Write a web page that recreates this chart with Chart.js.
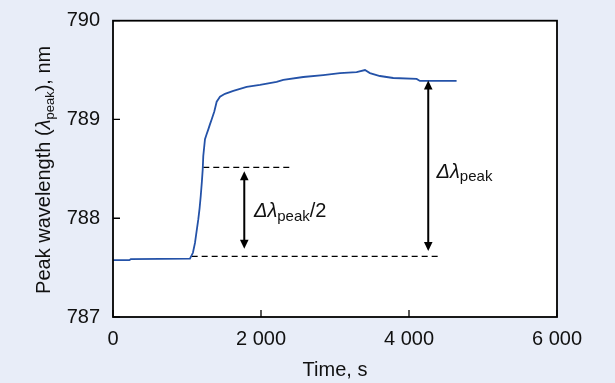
<!DOCTYPE html>
<html>
<head>
<meta charset="utf-8">
<script src="https://cdn.jsdelivr.net/npm/chart.js@4/dist/chart.umd.min.js"></script>
<style>
  html, body { margin: 0; padding: 0; background: #e8edf8; }
  #wrap { width: 615px; height: 383px; }
  canvas { display: block; }
</style>
</head>
<body>
<div id="wrap"><canvas id="c" width="615" height="383"></canvas></div>
<script>
// ---- data ----
const times = [0, 220, 240, 1040, 1080, 1108, 1130, 1153, 1170, 1185, 1200, 1212, 1220, 1243, 1265, 1288, 1310, 1333, 1369, 1401, 1446, 1513, 1626, 1806, 1986, 2211, 2301, 2571, 2841, 3067, 3292, 3405, 3472, 3607, 3787, 4103, 4148, 4643];
const wavelengths = [787.575, 787.575, 787.585, 787.59, 787.65, 787.75, 787.87, 787.99, 788.10, 788.22, 788.36, 788.49, 788.63, 788.80, 788.85, 788.90, 788.95, 789.00, 789.08, 789.18, 789.23, 789.26, 789.29, 789.33, 789.35, 789.38, 789.40, 789.43, 789.45, 789.47, 789.48, 789.50, 789.47, 789.44, 789.42, 789.41, 789.39, 789.39];

const xTicks = [0, 2000, 4000, 6000];
const yTicks = [787, 788, 789, 790];

// dashed reference lines: [tStart, tEnd, level]
const halfLine = [1220, 2436, 788.515];
const baseLine = [1063, 4440, 787.613];

// double arrows: [t, yTop, yBottom]
const halfArrow = [1774, 788.475, 787.691];
const fullArrow = [4260, 789.394, 787.667];

// labels: [t, y]
const halfLabelPos = [1905, 788.01];
const fullLabelPos = [4373, 788.41];

const xTitle = 'Time, s';
const FONT = '"Liberation Sans", Arial, Helvetica, sans-serif';

function fmtThousands(v) {
  return String(v).replace(/\B(?=(\d{3})+(?!\d))/g, ' ');
}

const pts = times.map((t, i) => ({x: t, y: wavelengths[i]}));

function drawRich(ctx, x, y, parts) {
  let cx = x;
  for (const [txt, font, dy] of parts) {
    ctx.font = font;
    ctx.fillText(txt, cx, y + dy);
    cx += ctx.measureText(txt).width;
  }
}
function richWidth(ctx, parts) {
  let w = 0;
  for (const [txt, font] of parts) { ctx.font = font; w += ctx.measureText(txt).width; }
  return w;
}
function arrowHead(ctx, x, y, dir) {
  const L = 9, W = 4.3;
  ctx.beginPath();
  ctx.moveTo(x, y);
  ctx.lineTo(x - W, y - dir * L);
  ctx.lineTo(x + W, y - dir * L);
  ctx.closePath();
  ctx.fill();
}

const decor = {
  id: 'decor',
  beforeDraw(chart) {
    const {ctx, chartArea: a} = chart;
    ctx.save();
    ctx.fillStyle = '#ffffff';
    ctx.fillRect(a.left, a.top, a.right - a.left, a.bottom - a.top);
    ctx.restore();
  },
  afterDatasetsDraw(chart) {
    const {ctx, chartArea: a, scales: {x, y}} = chart;
    ctx.save();
    ctx.strokeStyle = '#000';
    ctx.fillStyle = '#000';
    ctx.lineWidth = 2;
    for (const [t, yt, yb] of [halfArrow, fullArrow]) {
      const px = x.getPixelForValue(t);
      const p1 = y.getPixelForValue(yt), p2 = y.getPixelForValue(yb);
      ctx.beginPath();
      ctx.moveTo(px, p1 + 6);
      ctx.lineTo(px, p2 - 6);
      ctx.stroke();
      arrowHead(ctx, px, p1, -1);
      arrowHead(ctx, px, p2, 1);
    }
    ctx.textBaseline = 'alphabetic';
    ctx.textAlign = 'left';
    ctx.fillStyle = '#111';
    const it = 'italic 20px ' + FONT, sub = '15px ' + FONT, nrm = '20px ' + FONT;
    drawRich(ctx, x.getPixelForValue(halfLabelPos[0]), y.getPixelForValue(halfLabelPos[1]),
      [['Δλ', it, 0], ['peak', sub, 3.5], ['/2', nrm, 0]]);
    drawRich(ctx, x.getPixelForValue(fullLabelPos[0]), y.getPixelForValue(fullLabelPos[1]),
      [['Δλ', it, 0], ['peak', sub, 3.5]]);

    ctx.strokeStyle = '#000';
    ctx.lineWidth = 1.8;
    ctx.strokeRect(a.left, a.top, a.right - a.left, a.bottom - a.top);
    ctx.lineWidth = 1.3;
    ctx.beginPath();
    for (const v of xTicks) {
      const px = x.getPixelForValue(v);
      ctx.moveTo(px, a.bottom); ctx.lineTo(px, a.bottom - 7);
    }
    for (const v of yTicks) {
      const py = y.getPixelForValue(v);
      ctx.moveTo(a.left, py); ctx.lineTo(a.left + 7, py);
    }
    ctx.stroke();

    ctx.fillStyle = '#111';
    ctx.textAlign = 'left';
    ctx.font = '20px ' + FONT;
    const xw = ctx.measureText(xTitle).width;
    ctx.fillText(xTitle, (a.left + a.right) / 2 - xw / 2, 376);

    const yParts = [['Peak wavelength (', '20px ' + FONT, 0], ['λ', 'italic 20px ' + FONT, 0],
                    ['peak', '13px ' + FONT, 4], ['), nm', '20px ' + FONT, 0]];
    const yw = richWidth(ctx, yParts);
    ctx.translate(50, (a.top + a.bottom) / 2 + 1);
    ctx.rotate(-Math.PI / 2);
    drawRich(ctx, -yw / 2, 0, yParts);
    ctx.restore();
  }
};

new Chart(document.getElementById('c'), {
  type: 'scatter',
  data: {
    datasets: [
      {
        data: pts, showLine: true, borderColor: '#2452a8', borderWidth: 1.8,
        pointRadius: 0, tension: 0, order: 1
      },
      {
        data: [{x: halfLine[0], y: halfLine[2]}, {x: halfLine[1], y: halfLine[2]}],
        showLine: true, borderColor: '#000', borderWidth: 1.3, borderDash: [6, 4],
        pointRadius: 0, order: 2
      },
      {
        data: [{x: baseLine[0], y: baseLine[2]}, {x: baseLine[1], y: baseLine[2]}],
        showLine: true, borderColor: '#000', borderWidth: 1.3, borderDash: [6, 4],
        pointRadius: 0, order: 2
      }
    ]
  },
  options: {
    responsive: false,
    animation: false,
    devicePixelRatio: 1,
    layout: { padding: { top: 20.7, right: 58, left: 0, bottom: 0 } },
    plugins: { legend: { display: false }, tooltip: { enabled: false } },
    scales: {
      x: {
        type: 'linear', min: 0, max: 6000,
        afterBuildTicks(s) { s.ticks = xTicks.map(v => ({value: v})); },
        afterFit(s) { s.height = 66; s.paddingLeft = 0; s.paddingRight = 0; },
        grid: { display: false, drawTicks: false },
        border: { display: false },
        ticks: {
          color: '#111', padding: 10,
          font: { family: FONT, size: 20 },
          maxRotation: 0, autoSkip: false,
          callback: v => fmtThousands(v)
        }
      },
      y: {
        type: 'linear', min: 787, max: 790,
        afterBuildTicks(s) { s.ticks = yTicks.map(v => ({value: v})); },
        afterFit(s) { s.width = 113; s.paddingTop = 0; s.paddingBottom = 0; },
        grid: { display: false, drawTicks: false },
        border: { display: false },
        ticks: {
          color: '#111', padding: 13,
          font: { family: FONT, size: 20 },
          callback: v => String(v)
        }
      }
    }
  },
  plugins: [decor]
});
</script>
</body>
</html>
